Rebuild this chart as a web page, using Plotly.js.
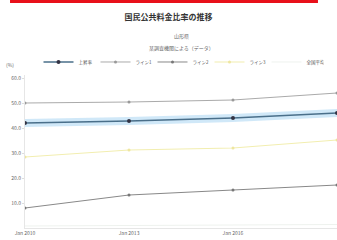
<!DOCTYPE html>
<html><head><meta charset="utf-8">
<script src="https://cdn.plot.ly/plotly-3.0.1.min.js"></script>
<style>html,body{margin:0;padding:0;background:#fff}#c{width:337px;height:240px}</style>
</head><body><div id="c"></div>
<script>
const years = ['2010-01-01','2013-01-01','2016-01-01','2019-01-01'];
const tickLabels = ['Jan 2010','Jan 2013','Jan 2016','Jan 2019'];
const seriesNames = ['上昇率','ライン1','ライン2','ライン3','全国平均'];
const rate = [42.0, 42.8, 44.0, 46.0];
const rateUpper = [43.6, 44.4, 45.6, 47.6];
const rateLower = [40.4, 41.2, 42.4, 44.4];
const lineHigh = [50.0, 50.4, 51.2, 54.0];
const lineLow = [8.0, 13.2, 15.2, 17.2];
const lineForecast = [28.4, 31.2, 32.0, 35.2];
const nationalAvg = [0.8, 1.0, 1.2, 1.4];

const traces = [
  {x:years,y:rateUpper,mode:'lines',line:{width:0},showlegend:false,hoverinfo:'skip'},
  {x:years,y:rateLower,mode:'lines',line:{width:0},fill:'tonexty',fillcolor:'rgba(150,205,240,0.45)',showlegend:false,hoverinfo:'skip'},
  {x:years,y:rate,name:seriesNames[0],mode:'lines+markers',line:{color:'#4a6f8a',width:1.3},marker:{size:4,color:'#334'}},
  {x:years,y:lineHigh,name:seriesNames[1],mode:'lines+markers',line:{color:'#aaaaaa',width:1},marker:{size:3,color:'#999'}},
  {x:years,y:lineLow,name:seriesNames[2],mode:'lines+markers',line:{color:'#888888',width:1},marker:{size:3,color:'#777'}},
  {x:years,y:lineForecast,name:seriesNames[3],mode:'lines+markers',line:{color:'#f2eeb0',width:1.2},marker:{size:3,color:'#eee6a0'}},
  {x:years,y:nationalAvg,name:seriesNames[4],mode:'lines',line:{color:'#eef2ee',width:1}}
];
const F = '"Noto Sans CJK JP", "Noto Sans", sans-serif';
const layout = {
  width:337,height:240,
  margin:{l:25,r:0,t:75,b:12},
  paper_bgcolor:'#fff',plot_bgcolor:'#fff',
  font:{family:F,size:5,color:'#555'},
  title:{text:'国民公共料金比率の推移',font:{family:F,size:8,color:'#333',weight:'bold'},x:0.5,xanchor:'center',y:0.93,yanchor:'middle'},
  showlegend:true,
  legend:{orientation:'h',traceorder:'normal',x:0.5,xanchor:'center',y:1.085,yanchor:'middle',font:{size:4.5,color:'#555'},itemwidth:30,entrywidth:12,entrywidthmode:'pixels',tracegroupgap:0},
  xaxis:{type:'date',range:[years[0],years[3]],tickvals:years,ticktext:tickLabels,showgrid:false,showline:true,linecolor:'#e6e6e6',ticks:'',tickfont:{size:5,color:'#666'},zeroline:false},
  yaxis:{range:[0,61.2],tickvals:[10,20,30,40,50,60],ticktext:['10.0','20.0','30.0','40.0','50.0','60.0'],showgrid:false,showline:true,linecolor:'#e6e6e6',ticks:'outside',ticklen:2,tickcolor:'#ddd',tickfont:{size:5,color:'#666'},zeroline:false},
  shapes:[{type:'rect',xref:'paper',yref:'paper',x0:-0.048,x1:0.939,y0:1.47,y1:1.50,fillcolor:'#e8101a',line:{width:0}}],
  annotations:[
    {text:'山形県',xref:'paper',yref:'paper',x:0.5,y:1.294,showarrow:false,font:{size:5,color:'#666'}},
    {text:'某調査機関による（データ）',xref:'paper',yref:'paper',x:0.5,y:1.216,showarrow:false,font:{size:5,color:'#666'}},
    {text:'(%)',xref:'paper',yref:'paper',x:-0.03,y:1.03,xanchor:'right',yanchor:'bottom',showarrow:false,font:{size:5,color:'#666'}}
  ]
};
Plotly.newPlot('c',traces,layout,{displayModeBar:false,staticPlot:true});
</script></body></html>
